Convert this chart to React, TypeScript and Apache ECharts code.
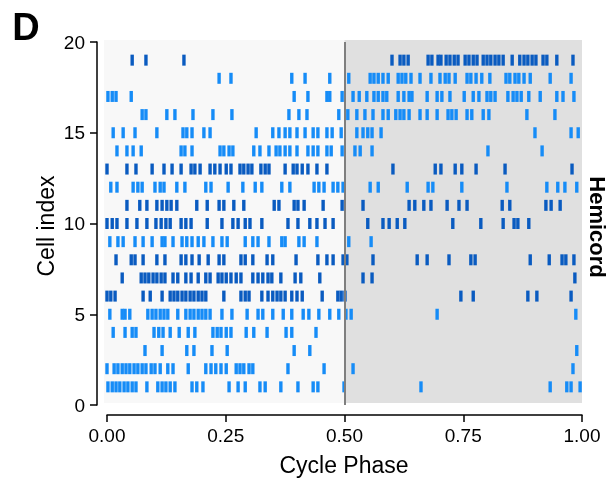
import React, { useEffect, useRef } from "react";
import * as echarts from "echarts";

// Spike phases (0–1 of the swim cycle) for each recorded cell
const cell1 = [0.002, 0.011, 0.019, 0.027, 0.036, 0.044, 0.053, 0.061, 0.084, 0.107, 0.116, 0.124, 0.133, 0.143, 0.179, 0.189, 0.202, 0.257, 0.276, 0.291, 0.322, 0.333, 0.366, 0.402, 0.434, 0.444, 0.499, 0.661, 0.933, 0.968, 0.977, 0.996];
const cell2 = [0.0, 0.015, 0.023, 0.032, 0.04, 0.048, 0.057, 0.065, 0.074, 0.082, 0.093, 0.101, 0.112, 0.128, 0.139, 0.171, 0.208, 0.219, 0.229, 0.24, 0.251, 0.272, 0.28, 0.288, 0.299, 0.307, 0.381, 0.457, 0.518, 0.981];
const cell3 = [0.08, 0.116, 0.168, 0.183, 0.221, 0.253, 0.394, 0.427, 0.989];
const cell4 = [0.013, 0.038, 0.053, 0.061, 0.099, 0.109, 0.118, 0.133, 0.152, 0.171, 0.185, 0.223, 0.232, 0.24, 0.251, 0.261, 0.293, 0.309, 0.337, 0.377, 0.389, 0.44];
const cell5 = [0.006, 0.032, 0.038, 0.048, 0.086, 0.095, 0.103, 0.112, 0.12, 0.128, 0.149, 0.166, 0.175, 0.183, 0.192, 0.2, 0.208, 0.217, 0.242, 0.263, 0.295, 0.318, 0.328, 0.349, 0.371, 0.389, 0.413, 0.425, 0.446, 0.469, 0.488, 0.503, 0.514, 0.695, 0.987];
const cell6 = [0.0, 0.008, 0.017, 0.076, 0.091, 0.116, 0.133, 0.141, 0.149, 0.158, 0.166, 0.175, 0.183, 0.192, 0.2, 0.208, 0.246, 0.282, 0.291, 0.299, 0.326, 0.339, 0.349, 0.358, 0.366, 0.375, 0.389, 0.4, 0.411, 0.453, 0.486, 0.493, 0.501, 0.745, 0.771, 0.886, 0.905, 0.977];
const cell7 = [0.032, 0.072, 0.08, 0.088, 0.097, 0.105, 0.114, 0.122, 0.139, 0.149, 0.166, 0.177, 0.192, 0.208, 0.217, 0.234, 0.242, 0.251, 0.261, 0.272, 0.282, 0.307, 0.318, 0.328, 0.339, 0.347, 0.366, 0.396, 0.408, 0.448, 0.539, 0.558, 0.985];
const cell8 = [0.019, 0.051, 0.059, 0.076, 0.105, 0.122, 0.156, 0.166, 0.179, 0.194, 0.213, 0.236, 0.246, 0.282, 0.291, 0.307, 0.337, 0.349, 0.398, 0.444, 0.463, 0.476, 0.497, 0.505, 0.56, 0.653, 0.674, 0.72, 0.766, 0.775, 0.891, 0.931, 0.958, 0.966, 0.983];
const cell9 = [0.006, 0.023, 0.034, 0.059, 0.076, 0.095, 0.116, 0.122, 0.139, 0.158, 0.168, 0.179, 0.192, 0.204, 0.223, 0.242, 0.253, 0.291, 0.307, 0.318, 0.341, 0.368, 0.375, 0.404, 0.415, 0.442, 0.509, 0.556];
const cell10 = [0.0, 0.011, 0.021, 0.042, 0.063, 0.084, 0.103, 0.114, 0.124, 0.133, 0.156, 0.166, 0.177, 0.211, 0.242, 0.265, 0.276, 0.291, 0.301, 0.326, 0.381, 0.402, 0.427, 0.442, 0.459, 0.476, 0.549, 0.581, 0.594, 0.611, 0.627, 0.728, 0.787, 0.834, 0.857, 0.865, 0.888];
const cell11 = [0.042, 0.069, 0.084, 0.105, 0.116, 0.126, 0.135, 0.147, 0.189, 0.211, 0.236, 0.246, 0.267, 0.288, 0.352, 0.362, 0.394, 0.402, 0.415, 0.455, 0.495, 0.539, 0.636, 0.648, 0.667, 0.682, 0.716, 0.741, 0.758, 0.832, 0.848, 0.924, 0.935, 0.954];
const cell12 = [0.008, 0.021, 0.055, 0.065, 0.074, 0.101, 0.112, 0.12, 0.147, 0.164, 0.208, 0.219, 0.255, 0.286, 0.312, 0.326, 0.368, 0.385, 0.436, 0.446, 0.457, 0.476, 0.486, 0.497, 0.554, 0.571, 0.632, 0.676, 0.686, 0.747, 0.842, 0.926, 0.949, 0.964, 0.989];
const cell13 = [0.0, 0.042, 0.061, 0.095, 0.12, 0.137, 0.156, 0.177, 0.185, 0.196, 0.217, 0.227, 0.238, 0.251, 0.261, 0.28, 0.288, 0.297, 0.305, 0.324, 0.333, 0.341, 0.375, 0.392, 0.4, 0.411, 0.423, 0.442, 0.463, 0.602, 0.691, 0.703, 0.733, 0.747, 0.777, 0.838, 0.979];
const cell14 = [0.021, 0.042, 0.055, 0.072, 0.156, 0.164, 0.179, 0.238, 0.246, 0.257, 0.265, 0.309, 0.322, 0.341, 0.356, 0.364, 0.375, 0.385, 0.4, 0.423, 0.434, 0.444, 0.463, 0.472, 0.495, 0.522, 0.533, 0.558, 0.802, 0.916];
const cell15 = [0.013, 0.034, 0.059, 0.105, 0.16, 0.168, 0.179, 0.204, 0.217, 0.314, 0.349, 0.362, 0.375, 0.385, 0.4, 0.417, 0.434, 0.444, 0.463, 0.474, 0.493, 0.526, 0.539, 0.549, 0.558, 0.577, 0.901, 0.977, 0.992];
const cell16 = [0.074, 0.082, 0.126, 0.143, 0.181, 0.223, 0.263, 0.383, 0.404, 0.421, 0.488, 0.507, 0.526, 0.543, 0.56, 0.581, 0.592, 0.608, 0.617, 0.625, 0.636, 0.659, 0.674, 0.695, 0.718, 0.726, 0.735, 0.758, 0.768, 0.792, 0.804, 0.884, 0.943];
const cell17 = [0.002, 0.011, 0.019, 0.051, 0.394, 0.423, 0.463, 0.469, 0.495, 0.518, 0.531, 0.547, 0.562, 0.571, 0.581, 0.589, 0.613, 0.625, 0.636, 0.642, 0.674, 0.695, 0.705, 0.722, 0.752, 0.771, 0.783, 0.8, 0.808, 0.817, 0.844, 0.855, 0.863, 0.872, 0.888, 0.912, 0.947, 0.96, 0.983];
const cell18 = [0.236, 0.261, 0.389, 0.417, 0.469, 0.509, 0.554, 0.562, 0.571, 0.581, 0.592, 0.613, 0.621, 0.629, 0.64, 0.659, 0.682, 0.701, 0.712, 0.72, 0.733, 0.758, 0.766, 0.777, 0.789, 0.806, 0.84, 0.848, 0.859, 0.867, 0.878, 0.891, 0.933, 0.977];
const cell19 = [0.053, 0.082, 0.162, 0.6, 0.617, 0.625, 0.634, 0.676, 0.684, 0.697, 0.703, 0.714, 0.722, 0.731, 0.739, 0.754, 0.762, 0.771, 0.779, 0.792, 0.8, 0.808, 0.817, 0.825, 0.834, 0.853, 0.869, 0.878, 0.886, 0.895, 0.903, 0.918, 0.926, 0.947, 0.981];

const cells = [cell1, cell2, cell3, cell4, cell5, cell6, cell7, cell8, cell9, cell10, cell11, cell12, cell13, cell14, cell15, cell16, cell17, cell18, cell19];

// Cells drawn in the darker blue
const darkCells = [6, 7, 8, 10, 11, 13, 19];

const xTicks = [0, 0.25, 0.5, 0.75, 1];
const yTicks = [0, 5, 10, 15, 20];

const DARK = "#0a5bc0";
const LIGHT = "#168cf7";
const FONT = "'Liberation Sans', Arial, Helvetica, sans-serif";

export default function App() {
  const ref = useRef<HTMLDivElement>(null);

  useEffect(() => {
    if (!ref.current) return;
    const chart = echarts.init(ref.current, null, { renderer: "svg" });

    const darkData: number[][] = [];
    const lightData: number[][] = [];
    cells.forEach((spikes, i) => {
      const idx = i + 1;
      const target = darkCells.includes(idx) ? darkData : lightData;
      spikes.forEach((p) => target.push([p, idx]));
    });

    const axisStyle = { color: "#000", width: 1.5 };
    const spikeSize = [3.4, 11];

    chart.setOption({
      animation: false,
      grid: { left: 107, right: 31, top: 42, bottom: 82 },
      xAxis: {
        type: "value",
        min: xTicks[0],
        max: xTicks[xTicks.length - 1],
        interval: 0.25,
        offset: 10,
        axisLine: { show: true, onZero: false, lineStyle: axisStyle },
        axisTick: { show: true, length: 7, lineStyle: axisStyle },
        axisLabel: {
          color: "#000",
          fontSize: 19,
          fontFamily: FONT,
          margin: 11,
          formatter: (v: number) => v.toFixed(2),
        },
        splitLine: { show: false },
      },
      yAxis: {
        type: "value",
        min: yTicks[0],
        max: yTicks[yTicks.length - 1],
        interval: 5,
        offset: 10,
        axisLine: { show: true, onZero: false, lineStyle: axisStyle },
        axisTick: { show: true, length: 7, lineStyle: axisStyle },
        axisLabel: { color: "#000", fontSize: 19, fontFamily: FONT, margin: 12 },
        splitLine: { show: false },
      },
      graphic: [
        {
          type: "text",
          x: 26,
          y: 27,
          style: {
            text: "D",
            font: `bold 38px ${FONT}`,
            fill: "#000",
            textAlign: "center",
            textVerticalAlign: "middle",
          },
        },
        {
          type: "text",
          x: 344,
          y: 465,
          style: {
            text: "Cycle Phase",
            font: `23px ${FONT}`,
            fill: "#000",
            textAlign: "center",
            textVerticalAlign: "middle",
          },
        },
        {
          type: "text",
          x: 46,
          y: 226,
          rotation: Math.PI / 2,
          style: {
            text: "Cell index",
            font: `23px ${FONT}`,
            fill: "#000",
            textAlign: "center",
            textVerticalAlign: "middle",
          },
        },
        {
          type: "text",
          x: 597,
          y: 227,
          rotation: -Math.PI / 2,
          style: {
            text: "Hemicord",
            font: `bold 22px ${FONT}`,
            fill: "#000",
            textAlign: "center",
            textVerticalAlign: "middle",
          },
        },
      ],
      series: [
        {
          // Shaded half-cycle backgrounds
          type: "custom",
          silent: true,
          z: 0,
          data: [
            [0, 0.5, 0],
            [0.5, 1, 1],
          ],
          renderItem: (_params: any, api: any) => {
            const x0 = api.value(0);
            const x1 = api.value(1);
            const tl = api.coord([x0, 20]);
            const br = api.coord([x1, 0]);
            const pad = x0 === 0 ? 3 : 0;
            return {
              type: "rect",
              shape: {
                x: tl[0] - pad,
                y: tl[1] - 2,
                width: br[0] - tl[0] + pad,
                height: br[1] - tl[1],
              },
              style: { fill: api.value(2) === 0 ? "#f8f8f8" : "#e0e0e0" },
            };
          },
        },
        {
          type: "scatter",
          z: 2,
          symbol: "rect",
          symbolSize: spikeSize,
          itemStyle: { color: LIGHT, opacity: 1 },
          data: lightData,
          markLine: {
            silent: true,
            symbol: "none",
            label: { show: false },
            lineStyle: { color: "#7f7f7f", width: 2, type: "solid" },
            data: [{ xAxis: 0.5 }],
          },
        },
        {
          type: "scatter",
          z: 2,
          symbol: "rect",
          symbolSize: spikeSize,
          itemStyle: { color: DARK, opacity: 1 },
          data: darkData,
        },
      ],
    });

    return () => chart.dispose();
  }, []);

  return (
    <div
      ref={ref}
      style={{ position: "fixed", left: 0, top: 0, width: 613, height: 487 }}
    />
  );
}
